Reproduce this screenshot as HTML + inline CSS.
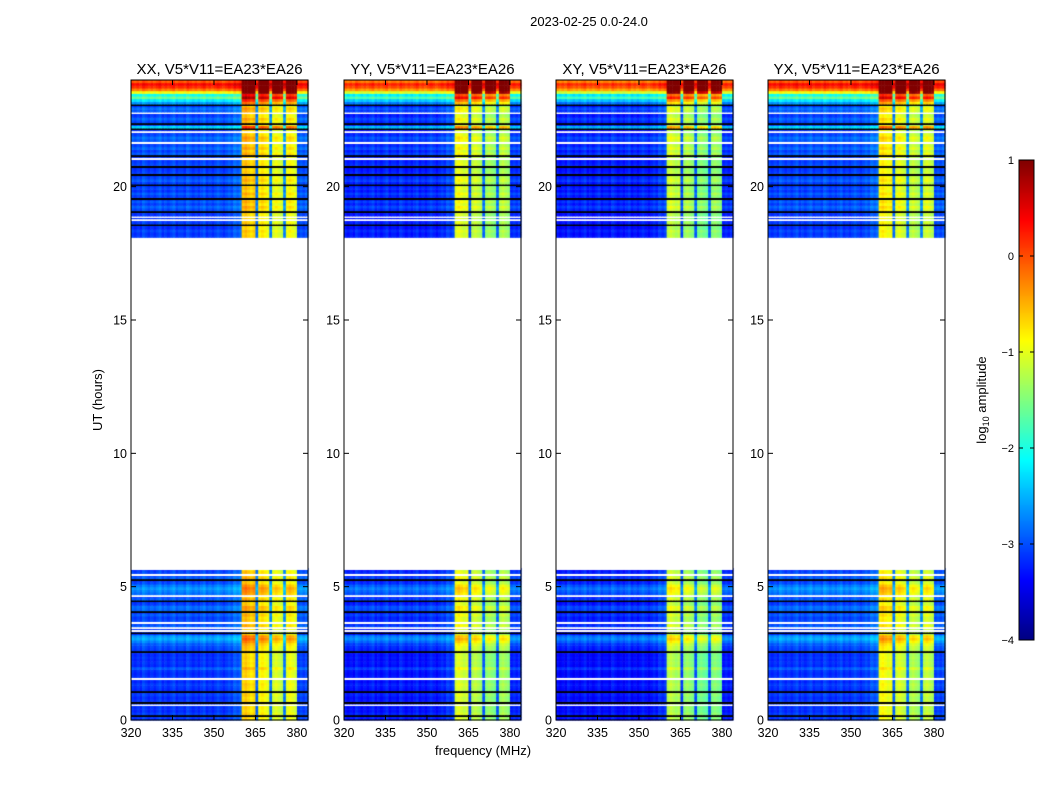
<!DOCTYPE html>
<html><head><meta charset="utf-8">
<style>
body{margin:0;background:#fff;width:1050px;height:800px;overflow:hidden;font-family:"Liberation Sans",sans-serif;}
#wrap{position:relative;width:1050px;height:800px;}
canvas,svg{position:absolute;left:0;top:0;}
</style></head>
<body>
<div id="wrap">
<canvas id="cv" width="1050" height="800"></canvas>
<svg id="sv" width="1050" height="800"></svg>
</div>
<script>
// ---- data ----
const panelTitles = ["XX, V5*V11=EA23*EA26","YY, V5*V11=EA23*EA26","XY, V5*V11=EA23*EA26","YX, V5*V11=EA23*EA26"];
const panelBgOffset = [0, -0.15, -0.2, 0];
const panelBandGain = [1.05, 0.95, 0.9, 0.95];
// channel profile, 320..383 MHz (1 MHz each)
const chanLevel = [0.1,0,0.1,0,0.2,0.1,0,0.1,0,0.1,0.2,0,0.1,0,0.1,0.2,0,0.1,0.1,0,
  0.2,0.1,0,0.1,0,0.1,0.2,0,0.1,0,0.1,0.2,0.1,0,0.1,0.2,0.1,0.3,0.2,0.3,
  2.4,2.5,2.4,2.3,2.4,0.3,2.2,2.3,2.2,2.1,0.4,2.0,2.1,2.0,1.9,0.4,2.1,2.2,2.1,2.0,0.1,0.2,0.1,0.2];
// row levels (null = flagged white line, -99 = black line), 0.1 h each
const lowStart = 0.0;
const lowRows = [0.1,-99,0.15,0.05,0.1,null,-99,0.1,0.05,0.15,-99,0.05,0.1,0.15,0.05,null,0.1,0.05,0.1,0.3,
  0.05,0.1,0.05,0.1,0.05,-99,0.15,0.2,0.3,0.5,0.7,0.6,-99,null,null,0.3,null,0.2,0.15,0.3,
  -99,0.35,0.4,0.15,-99,0.3,null,0.4,0.5,0.6,0.45,0.2,-99,0.3,null,0.2,null];
const highStart = 18.1;
const highRows = [0.15,0.1,0.2,0.05,-99,0.15,null,null,0.1,-99,0.2,0.35,0.15,0.3,-99,0.15,0.3,0.1,0.2,-99,
  0.15,0.3,0.2,-99,0.15,0.1,-99,0.2,0.15,null,-99,0.3,0.15,0.35,0.2,null,0.3,0.4,0.2,null,
  -99,0.9,-99,0.2,0.35,0.15,null,0.3,0.4,-99,0.6,1.0,1.6,1.2,2.3,3.0,3.4,3.6,3.2];
const yTicks = [0,5,10,15,20];
const xTicks = [320,335,350,365,380];
const cbTicks = [-4,-3,-2,-1,0,1];

// ---- layout ----
const panelLeft = [131,344,556,768];
const PW = 177, PT = 80, PB = 720;
const F0 = 320, F1 = 384, H0 = 0, H1 = 24;
function xs(p,f){return panelLeft[p] + (f-F0)/(F1-F0)*PW;}
function ys(h){return PB - (h-H0)/(H1-H0)*(PB-PT);}
function jet(v){ // v in [-4,1]
  let t=(v+4)/5; t=Math.max(0,Math.min(1,t));
  const c=x=>Math.round(255*Math.max(0,Math.min(1,x)));
  return `rgb(${c(1.5-Math.abs(4*t-3))},${c(1.5-Math.abs(4*t-2))},${c(1.5-Math.abs(4*t-1))})`;
}
const ctx = document.getElementById('cv').getContext('2d');
ctx.fillStyle='#fff';ctx.fillRect(0,0,1050,800);
function drawRows(p,rows,start){
  rows.forEach((rv,i)=>{
    const h0=start+0.1*i, h1=h0+0.1;
    const y0=ys(h1), y1=ys(h0);
    const base = (rv===null||rv===-99) ? 0.1 : rv;
    chanLevel.forEach((cv,c)=>{
      const x0=xs(p,F0+c), x1=xs(p,F0+c+1);
      const band = cv>1 ? cv*panelBandGain[p] : cv;
      ctx.fillStyle = jet(-3.3 + panelBgOffset[p] + base + band);
      ctx.fillRect(x0,y0,x1-x0+0.5,y1-y0+0.5);
    });
    if(rv===null||rv===-99){
      ctx.fillStyle = rv===null ? '#fff' : '#000';
      ctx.fillRect(panelLeft[p],Math.round((y0+y1)/2)-1,PW,2);
    }
  });
}
for(let p=0;p<4;p++){drawRows(p,lowRows,lowStart);drawRows(p,highRows,highStart);}
// colorbar
const CBX=1019,CBW=15,CBT=160,CBB=640;
function cby(v){return CBB-(v+4)/5*(CBB-CBT);}
for(let yy=CBT;yy<CBB;yy++){ctx.fillStyle=jet(-4+(CBB-yy)/(CBB-CBT)*5);ctx.fillRect(CBX,yy,CBW,1);}

// ---- svg ----
const NS="http://www.w3.org/2000/svg", sv=document.getElementById('sv');
function mk(tag,attrs,text){const e=document.createElementNS(NS,tag);for(const k in attrs)e.setAttribute(k,attrs[k]);if(text!==undefined)e.textContent=text;sv.appendChild(e);return e;}
let t=mk('text',{x:589,y:26,'font-size':13,'text-anchor':'middle'},"2023-02-25 0.0-24.0");


for(let p=0;p<4;p++){
  const L=panelLeft[p];
  let r=mk('rect',{x:L,y:PT,width:PW,height:PB-PT,fill:'none',stroke:'#000','stroke-width':1});
  
  
  let tt=mk('text',{x:L+PW/2,y:74,'font-size':15,'text-anchor':'middle'},panelTitles[p]);
  
  
  yTicks.forEach(v=>{
    const y=ys(v);
    mk('line',{x1:L,x2:L+5,y1:y,y2:y,stroke:'#000'});
    mk('line',{x1:L+PW-5,x2:L+PW,y1:y,y2:y,stroke:'#000'});
    let lb=mk('text',{x:L-4,y:y+4.5,'font-size':12.5,'text-anchor':'end'},String(v));
    
    
  });
  xTicks.forEach(v=>{
    const x=xs(p,v);
    mk('line',{x1:x,x2:x,y1:PB,y2:PB-5,stroke:'#000'});
    mk('line',{x1:x,x2:x,y1:PT,y2:PT+5,stroke:'#000'});
    let lb=mk('text',{x:x,y:737,'font-size':12.5,'text-anchor':'middle'},String(v));
    
    
  });
}
let yl=mk('text',{x:102,y:400,'font-size':13,'text-anchor':'middle',transform:'rotate(-90 102 400)'},"UT (hours)");


let xl=mk('text',{x:483,y:755,'font-size':13,'text-anchor':'middle'},"frequency (MHz)");


let cb=mk('rect',{x:CBX,y:CBT,width:CBW,height:CBB-CBT,fill:'none',stroke:'#000'});


cbTicks.forEach(v=>{
  const y=cby(v);
  mk('line',{x1:CBX,x2:CBX+4,y1:y,y2:y,stroke:'#000'});
  mk('line',{x1:CBX+CBW-4,x2:CBX+CBW,y1:y,y2:y,stroke:'#000'});
  let lb=mk('text',{x:CBX-5,y:y+4,'font-size':11,'text-anchor':'end'},(v<0?'\u2212':'')+Math.abs(v));
  
  
});
let cl=mk('text',{x:986,y:400,'font-size':13,'text-anchor':'middle',transform:'rotate(-90 986 400)'});


cl.innerHTML='log<tspan font-size="9" dy="3">10</tspan><tspan dy="-3"> amplitude</tspan>';
</script>
</body></html>
